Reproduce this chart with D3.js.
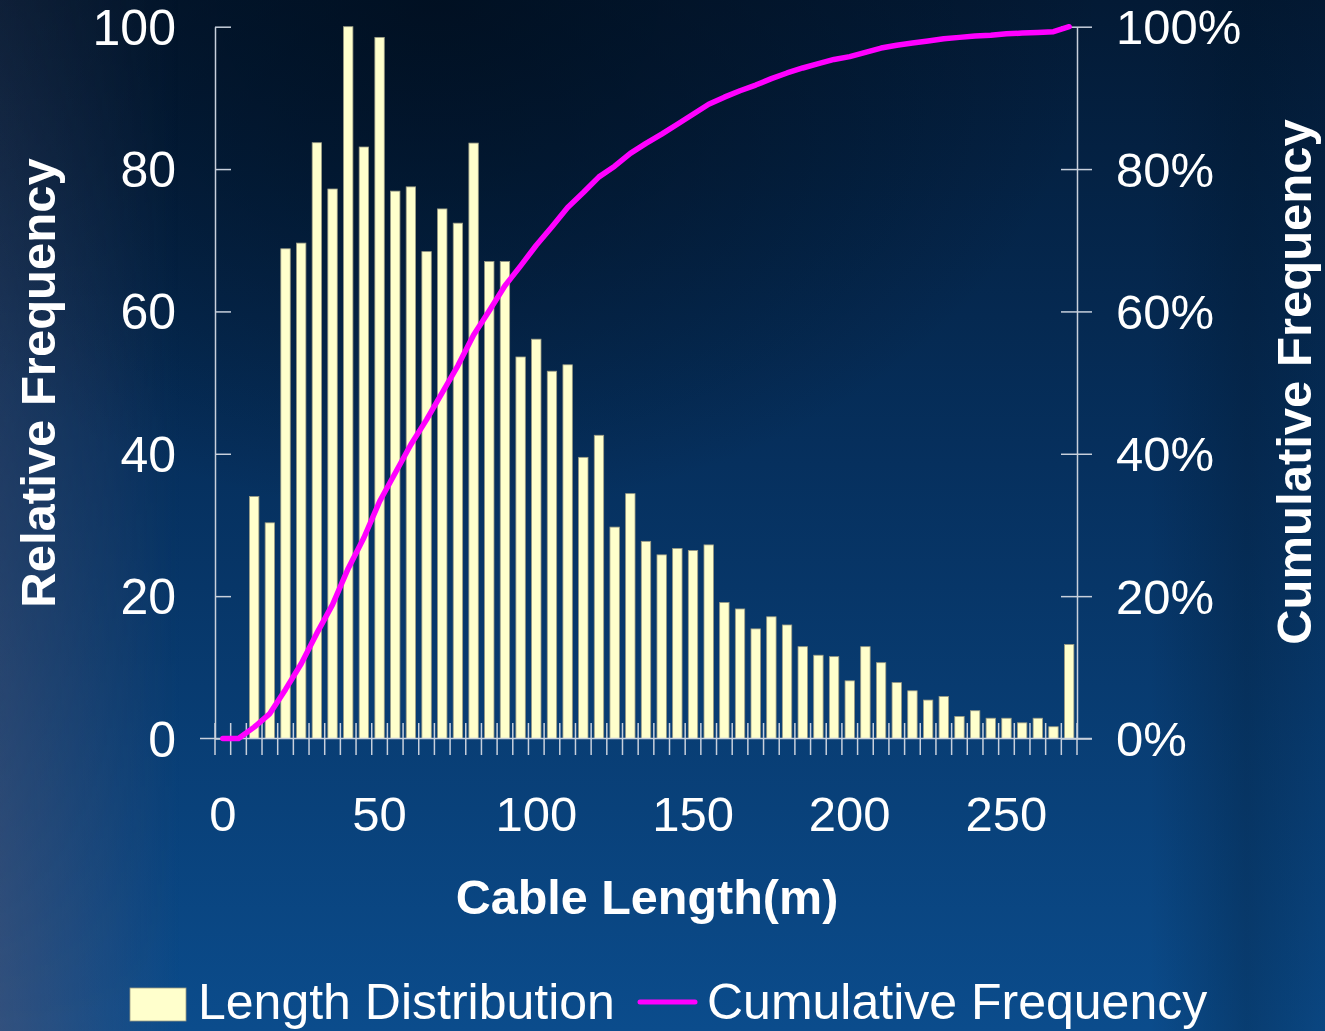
<!DOCTYPE html>
<html>
<head>
<meta charset="utf-8">
<script src="https://cdn.jsdelivr.net/npm/d3@7"></script>
<style>
html,body{margin:0;padding:0;background:#0a3a6e;}
svg{display:block;font-family:Arial,"Liberation Sans",sans-serif;}
</style>
</head>
<body>
<svg id="chart" width="1325" height="1031"></svg>
<script>
// Cable length bins (m)
const lengths = [0,5,10,15,20,25,30,35,40,45,50,55,60,65,70,75,80,85,90,95,100,105,110,115,120,125,130,135,140,145,150,155,160,165,170,175,180,185,190,195,200,205,210,215,220,225,230,235,240,245,250,255,260,265,270];
// Relative frequency (left axis)
const lengthDistribution = [0,0,34,30.3,68.8,69.6,83.7,77.2,100,83.1,98.5,76.9,77.5,68.4,74.4,72.4,83.65,67,67,53.6,56.1,51.6,52.5,39.5,42.6,29.7,34.4,27.7,25.8,26.7,26.4,27.2,19.1,18.2,15.4,17.1,15.95,12.9,11.7,11.5,8.1,12.9,10.65,7.85,6.7,5.4,5.9,3.1,3.9,2.85,2.85,2.2,2.85,1.65,13.2];
// Cumulative frequency in % (right axis)
const cumulativeFrequency = [0,0,1.6,3.5,6.9,10.5,14.8,18.8,23.9,28.2,33.3,37.3,41.3,44.8,48.6,52.4,56.7,60.1,63.6,66.4,69.3,71.9,74.6,76.7,78.9,80.4,82.2,83.6,84.9,86.3,87.7,89.1,90.1,91.0,91.8,92.7,93.5,94.2,94.8,95.4,95.8,96.4,97.0,97.4,97.7,98.0,98.3,98.5,98.7,98.8,99.0,99.1,99.2,99.3,100];
const leftTicks = [0,20,40,60,80,100];
const rightTicks = [0,20,40,60,80,100];
const xLabels = [0,50,100,150,200,250];
const legendItems = ["Length Distribution","Cumulative Frequency"];

const svg = d3.select("#chart");
const W = 1325, H = 1031;

// Background
const defs = svg.append("defs");
const g1 = defs.append("linearGradient").attr("id","bgv").attr("x1",0).attr("y1",0).attr("x2",0).attr("y2",1);
g1.append("stop").attr("offset","0%").attr("stop-color","#031a35");
g1.append("stop").attr("offset","45%").attr("stop-color","#06305e");
g1.append("stop").attr("offset","100%").attr("stop-color","#0b4c8c");
const g2 = defs.append("radialGradient").attr("id","bgdark").attr("cx",0.33).attr("cy",0.0).attr("r",0.5);
g2.append("stop").attr("offset","0%").attr("stop-color","#000d1c").attr("stop-opacity",0.75);
g2.append("stop").attr("offset","100%").attr("stop-color","#000d1c").attr("stop-opacity",0);
const g3 = defs.append("linearGradient").attr("id","bgleft").attr("x1",0).attr("y1",0).attr("x2",1).attr("y2",0);
g3.append("stop").attr("offset","0%").attr("stop-color","#5a5670").attr("stop-opacity",0.5);
g3.append("stop").attr("offset","100%").attr("stop-color","#5a5670").attr("stop-opacity",0);
const g4 = defs.append("linearGradient").attr("id","bgright").attr("x1",0).attr("y1",0).attr("x2",1).attr("y2",0);
g4.append("stop").attr("offset","0%").attr("stop-color","#001020").attr("stop-opacity",0);
g4.append("stop").attr("offset","55%").attr("stop-color","#001020").attr("stop-opacity",0.25);
g4.append("stop").attr("offset","100%").attr("stop-color","#001020").attr("stop-opacity",0.1);
const g5 = defs.append("linearGradient").attr("id","leftmask").attr("x1",0).attr("y1",0).attr("x2",0).attr("y2",1);
g5.append("stop").attr("offset","0%").attr("stop-color","#fff").attr("stop-opacity",0.3);
g5.append("stop").attr("offset","100%").attr("stop-color","#fff").attr("stop-opacity",1);
defs.append("mask").attr("id","lm").append("rect").attr("width",W).attr("height",H).attr("fill","url(#leftmask)");

svg.append("rect").attr("width",W).attr("height",H).attr("fill","url(#bgv)");
svg.append("rect").attr("width",W).attr("height",H).attr("fill","url(#bgdark)");
svg.append("rect").attr("width",180).attr("height",H).attr("fill","url(#bgleft)").attr("mask","url(#lm)");
svg.append("rect").attr("x",1150).attr("width",175).attr("height",H).attr("fill","url(#bgright)");

// Scales
const x = d3.scaleBand().domain(lengths).range([215,1077]).paddingInner(0.4).paddingOuter(0.2);
const yL = d3.scaleLinear().domain([0,100]).range([738.5,26.7]);
const yR = d3.scaleLinear().domain([0,100]).range([738.5,26.7]);
const step = x.step();
const boundary = d => x(d) - step*x.paddingInner()/2;

const axisColor = "#c8d0dc";

// Bars
svg.append("g").selectAll("rect").data(lengths).join("rect")
  .attr("x", d => x(d))
  .attr("width", x.bandwidth())
  .attr("y", (d,i) => yL(lengthDistribution[i]))
  .attr("height", (d,i) => yL(0) - yL(lengthDistribution[i]))
  .attr("fill","#ffffcc")
  .attr("stroke","#9c9c84")
  .attr("stroke-width",0.8);

// Left axis
const leftAxis = d3.axisLeft(yL).tickValues(leftTicks).tickSizeInner(15).tickSizeOuter(0).tickPadding(24);
const gl = svg.append("g").attr("transform","translate(215,0)").call(leftAxis);
gl.selectAll(".tick line").attr("x2",16);
// Right axis
const rightAxis = d3.axisRight(yR).tickValues(rightTicks).tickSizeInner(15).tickSizeOuter(0).tickPadding(24).tickFormat(d => d + "%");
const gr = svg.append("g").attr("transform","translate(1077,0)").call(rightAxis);
gr.selectAll(".tick line").attr("x2",15).attr("x1",-16);

[gl,gr].forEach(g => {
  g.select(".domain").attr("stroke",axisColor).attr("stroke-width",1.5);
  g.selectAll(".tick line").attr("stroke",axisColor).attr("stroke-width",1.5);
  g.selectAll(".tick text").attr("fill","#ffffff").attr("font-size",49).attr("dy","0.35em")
    .style("font-family","Arial, 'Liberation Sans', sans-serif");
});
gl.selectAll(".tick text").attr("font-size",50);

// Bottom axis (category axis, ticks at boundaries, labels every 50 m)
const bottomAxis = d3.axisBottom(x).tickValues(xLabels).tickSize(0).tickPadding(58);
const gb = svg.append("g").attr("transform","translate(0,738.5)").call(bottomAxis);
gb.select(".domain").remove();
gb.selectAll(".tick text").attr("fill","#ffffff").attr("font-size",49)
  .style("font-family","Arial, 'Liberation Sans', sans-serif");
svg.append("line").attr("x1",200).attr("x2",1092).attr("y1",738.5).attr("y2",738.5)
  .attr("stroke",axisColor).attr("stroke-width",1.5);
const bounds = lengths.map(boundary).concat([boundary(lengths[lengths.length-1]) + step]);
svg.append("g").selectAll("line").data(bounds).join("line")
  .attr("x1",d=>d).attr("x2",d=>d).attr("y1",723).attr("y2",755)
  .attr("stroke",axisColor).attr("stroke-width",1.5);

// Cumulative line
const line = d3.line()
  .x((d,i) => x(lengths[i]) + x.bandwidth()/2)
  .y(d => yR(d));
svg.append("path").datum(cumulativeFrequency)
  .attr("d", line)
  .attr("fill","none")
  .attr("stroke","#ff00ff")
  .attr("stroke-width",5.5)
  .attr("stroke-linejoin","round")
  .attr("stroke-linecap","round");

// Axis titles
svg.append("text").attr("x",647).attr("y",914).attr("text-anchor","middle")
  .attr("fill","#fff").attr("font-size",48.5).attr("font-weight","bold").text("Cable Length(m)");
svg.append("text").attr("transform","translate(55,383) rotate(-90)").attr("text-anchor","middle")
  .attr("fill","#fff").attr("font-size",49).attr("font-weight","bold").text("Relative Frequency");
svg.append("text").attr("transform","translate(1311,382) rotate(-90)").attr("text-anchor","middle")
  .attr("fill","#fff").attr("font-size",49).attr("font-weight","bold").text("Cumulative Frequency");

// Legend
const lg = svg.append("g");
lg.append("rect").attr("x",130).attr("y",988).attr("width",56).attr("height",33)
  .attr("fill","#ffffcc").attr("stroke","#9c9c84").attr("stroke-width",0.8);
lg.append("text").attr("x",198).attr("y",1019).attr("fill","#fff").attr("font-size",50).text(legendItems[0]);
lg.append("line").attr("x1",640).attr("x2",695).attr("y1",1002).attr("y2",1002)
  .attr("stroke","#ff00ff").attr("stroke-width",5).attr("stroke-linecap","round");
lg.append("text").attr("x",707).attr("y",1019).attr("fill","#fff").attr("font-size",50).text(legendItems[1]);
</script>
</body>
</html>
